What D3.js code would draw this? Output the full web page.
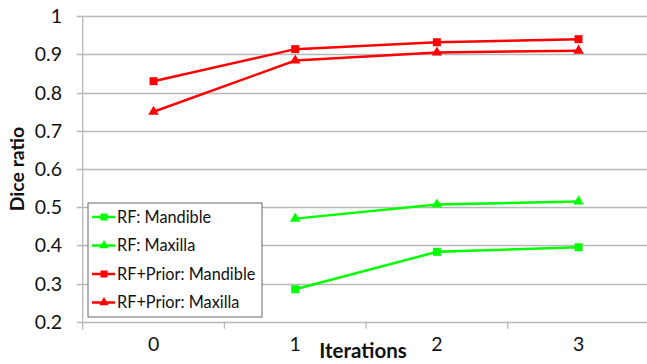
<!DOCTYPE html>
<html>
<head>
<meta charset="utf-8">
<script src="https://cdn.jsdelivr.net/npm/d3@7"></script>
<style>
  body { margin: 0; background: #fff; }
  svg { font-family: Lato, "Open Sans", sans-serif; }
</style>
</head>
<body>
<svg id="chart" width="647" height="364"></svg>
<script>
const iterations = ['0', '1', '2', '3']
const yTicks = [0.2, 0.3, 0.4, 0.5, 0.6, 0.7, 0.8, 0.9, 1]
const rfMandible = [null, 0.285, 0.383, 0.395]
const rfMaxilla = [null, 0.47, 0.507, 0.515]
const priorMandible = [0.83, 0.914, 0.932, 0.94]
const priorMaxilla = [0.75, 0.884, 0.905, 0.91]

const series = [
  { name: 'RF: Mandible', values: rfMandible, color: '#00ff00', symbol: d3.symbolSquare },
  { name: 'RF: Maxilla', values: rfMaxilla, color: '#00ff00', symbol: d3.symbolTriangle },
  { name: 'RF+Prior: Mandible', values: priorMandible, color: '#ff0000', symbol: d3.symbolSquare },
  { name: 'RF+Prior: Maxilla', values: priorMaxilla, color: '#ff0000', symbol: d3.symbolTriangle }
]

const svg = d3.select('#chart')
const plotLeft = 82.7, plotRight = 649.4, plotTop = 16.3, plotBottom = 321.7

const x = d3.scaleBand().domain(iterations).range([plotLeft, plotRight])
const y = d3.scaleLinear().domain([0.2, 1]).range([plotBottom, plotTop])

// gridlines
svg.append('g')
  .selectAll('line')
  .data(yTicks)
  .join('line')
  .attr('x1', plotLeft - 6)
  .attr('x2', plotRight)
  .attr('y1', d => Math.round(y(d)) + 0.5)
  .attr('y2', d => Math.round(y(d)) + 0.5)
  .attr('stroke', '#b8b8b8')
  .attr('stroke-width', 1.3)

// y axis line
svg.append('line')
  .attr('x1', plotLeft).attr('x2', plotLeft)
  .attr('y1', plotTop).attr('y2', plotBottom + 8)
  .attr('stroke', '#b8b8b8').attr('stroke-width', 1.3)

// x ticks at band edges
const edges = iterations.map(d => x(d)).concat([plotRight])
svg.append('g')
  .selectAll('line')
  .data(edges.slice(1, 4))
  .join('line')
  .attr('x1', d => d).attr('x2', d => d)
  .attr('y1', plotBottom).attr('y2', plotBottom + 7)
  .attr('stroke', '#b8b8b8').attr('stroke-width', 1.3)

// y tick labels
svg.append('g')
  .selectAll('text')
  .data(yTicks)
  .join('text')
  .attr('x', 62)
  .attr('y', d => y(d))
  .attr('dy', '0.36em')
  .attr('text-anchor', 'end')
  .attr('font-size', 19.5)
  .attr('fill', '#111')
  .text(d => d3.format('')(d))

// x tick labels
svg.append('g')
  .selectAll('text')
  .data(iterations)
  .join('text')
  .attr('x', d => x(d) + x.bandwidth() / 2)
  .attr('y', 351)
  .attr('text-anchor', 'middle')
  .attr('font-size', 19.5)
  .attr('fill', '#111')
  .text(d => d)

svg.append('text')
  .attr('x', 363)
  .attr('y', 358)
  .attr('text-anchor', 'middle')
  .attr('font-size', 20.5)
  .attr('font-weight', 'bold')
  .attr('fill', '#111')
  .text('Iterations')

svg.append('text')
  .attr('transform', 'translate(24,169) rotate(-90)')
  .attr('text-anchor', 'middle')
  .attr('font-size', 19.5)
  .attr('font-weight', 'bold')
  .attr('fill', '#111')
  .text('Dice ratio')

// lines and markers
const line = d3.line()
  .defined(d => d != null)
  .x((d, i) => x(iterations[i]) + x.bandwidth() / 2)
  .y(d => y(d))

series.forEach(s => {
  svg.append('path')
    .datum(s.values)
    .attr('d', line)
    .attr('fill', 'none')
    .attr('stroke', s.color)
    .attr('stroke-width', 2.5)

  svg.append('g')
    .selectAll('path')
    .data(s.values.map((v, i) => ({ v, i })).filter(d => d.v != null))
    .join('path')
    .attr('d', d3.symbol().type(s.symbol).size(s.symbol === d3.symbolSquare ? 64 : 48))
    .attr('transform', d => `translate(${x(iterations[d.i]) + x.bandwidth() / 2},${y(d.v)})`)
    .attr('fill', s.color)
})

// legend
const legend = svg.append('g')
legend.append('rect')
  .attr('x', 88).attr('y', 203)
  .attr('width', 174).attr('height', 114)
  .attr('fill', '#fff')
  .attr('stroke', '#666').attr('stroke-width', 1)

series.forEach((s, i) => {
  const ly = 217 + i * 28.5
  legend.append('line')
    .attr('x1', 92).attr('x2', 115)
    .attr('y1', ly).attr('y2', ly)
    .attr('stroke', s.color).attr('stroke-width', 2.5)
  legend.append('path')
    .attr('d', d3.symbol().type(s.symbol).size(s.symbol === d3.symbolSquare ? 49 : 40))
    .attr('transform', `translate(104,${ly})`)
    .attr('fill', s.color)
  legend.append('text')
    .attr('x', 117)
    .attr('y', ly)
    .attr('dy', '0.35em')
    .attr('font-size', 16.3)
    .attr('fill', '#111')
    .text(s.name)
})
</script>
</body>
</html>
